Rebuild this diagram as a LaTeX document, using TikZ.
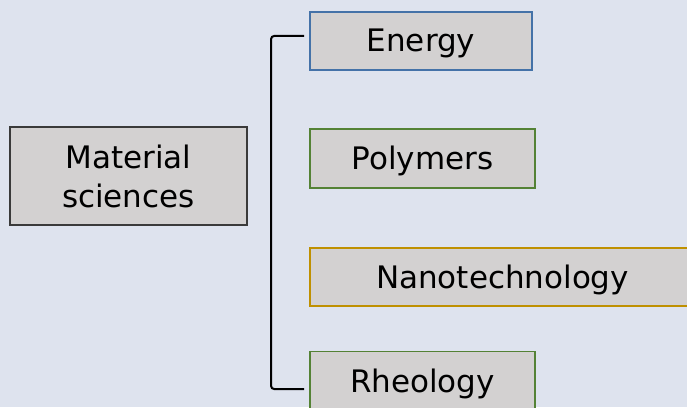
\documentclass[tikz,border=0pt]{standalone}
\usepackage{fontspec}
\setmainfont{DejaVu Sans}
\definecolor{BgBlue}{HTML}{DEE3EE}
\definecolor{BoxGray}{HTML}{D3D1D1}
\definecolor{EdgeDark}{HTML}{3A3A3A}
\definecolor{EdgeBlue}{HTML}{4472A8}
\definecolor{EdgeGreen}{HTML}{548235}
\definecolor{EdgeGold}{HTML}{BF9000}

\begin{document}
\begin{tikzpicture}[x=1pt,y=1pt,
        BoxCfg/.style={
            draw, fill=BoxGray, line width=1.8pt,
            inner sep=0pt, minimum height=58pt,
            font=\fontsize{31}{39}\selectfont
        },
        FieldCfg/.style={
            BoxCfg, text height=22pt, text depth=0pt
        }
    ]

    \fill[BgBlue] (0,0) rectangle (687,407);
    \useasboundingbox (0,0) rectangle (687,407);

    %main topic
    \node[BoxCfg,draw=EdgeDark,minimum width=237pt,minimum height=98pt,align=center] (MatSci) at (128.5,231) {Material\\sciences};

    %fields
    \node[FieldCfg,draw=EdgeBlue,minimum width=222pt] (Energy) at (421,366) {Energy};
    \node[FieldCfg,draw=EdgeGreen,minimum width=225pt,minimum height=59pt] (Polymers) at (422.5,248.5) {Polymers};
    \node[FieldCfg,draw=EdgeGold,minimum width=385pt] (Nano) at (502.5,130) {Nanotechnology};
    \node[FieldCfg,draw=EdgeGreen,minimum width=225pt,minimum height=60pt] (Rheology) at (422.5,25.5) {Rheology};

    %bracket
    \draw[line width=2pt,rounded corners=3pt] ([shift={(-5pt,5pt)}]Energy.west)--++(180:33)|-([shift={(-5pt,-7.5pt)}]Rheology.west);

\end{tikzpicture}
\end{document}
